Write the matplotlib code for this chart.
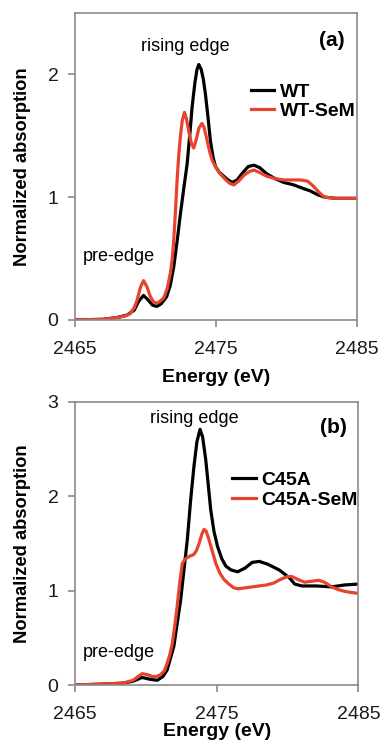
import numpy as np
import matplotlib
matplotlib.use("Agg")
from matplotlib import pyplot as plt

plt.rcParams['font.family'] = ['Liberation Sans', 'DejaVu Sans']

# (a) WT vs WT-SeM
wt_e = [2465, 2467, 2468, 2468.7, 2469.2, 2469.5, 2469.86, 2470.2, 2470.5, 2470.8,
        2471.1, 2471.5, 2471.75, 2472.0, 2472.25, 2472.47, 2472.7, 2472.95, 2473.15,
        2473.3, 2473.5, 2473.65, 2473.78, 2473.95, 2474.1, 2474.25, 2474.45, 2474.6,
        2474.8, 2474.96, 2475.25, 2475.55, 2475.85, 2476.15, 2476.5, 2476.9, 2477.3,
        2477.7, 2478.1, 2478.6, 2479.2, 2479.8, 2480.5, 2481.2, 2481.7, 2482.2,
        2482.7, 2483.5, 2484.3, 2485]
wt_mu = [0, 0.005, 0.02, 0.04, 0.08, 0.15, 0.20, 0.16, 0.12, 0.11,
         0.13, 0.19, 0.28, 0.43, 0.65, 0.86, 1.06, 1.27, 1.52,
         1.73, 1.93, 2.04, 2.08, 2.04, 1.96, 1.84, 1.63, 1.46,
         1.32, 1.25, 1.20, 1.17, 1.14, 1.12, 1.14, 1.20, 1.25,
         1.26, 1.24, 1.19, 1.15, 1.12, 1.10, 1.07, 1.05, 1.02,
         1.00, 0.99, 0.99, 0.99]

wtsem_e = [2465, 2467, 2468, 2468.5, 2468.9, 2469.2, 2469.4, 2469.65, 2469.86, 2470.1,
           2470.34, 2470.55, 2470.75, 2471.0, 2471.3, 2471.55, 2471.76, 2471.9, 2472.0,
           2472.12, 2472.24, 2472.35, 2472.47, 2472.6, 2472.76, 2472.9, 2473.06, 2473.25,
           2473.42, 2473.6, 2473.78, 2474.0, 2474.15, 2474.37, 2474.55, 2474.73, 2475.0,
           2475.3, 2475.7, 2476.0, 2476.27, 2476.6, 2477.0, 2477.4, 2477.7, 2478.1,
           2478.6, 2479.2, 2479.8, 2480.4, 2481.0, 2481.5, 2481.9, 2482.3, 2482.7,
           2483.5, 2484.3, 2485]
wtsem_mu = [0, 0.005, 0.02, 0.03, 0.05, 0.10, 0.16, 0.27, 0.32, 0.27,
            0.19, 0.15, 0.135, 0.15, 0.18, 0.26, 0.38, 0.50, 0.65,
            0.88, 1.14, 1.33, 1.49, 1.62, 1.69, 1.64, 1.54, 1.44,
            1.40, 1.47, 1.56, 1.60, 1.57, 1.46, 1.37, 1.30, 1.24,
            1.19, 1.14, 1.11, 1.10, 1.13, 1.18, 1.21, 1.22, 1.20,
            1.17, 1.15, 1.14, 1.14, 1.14, 1.13, 1.09, 1.04, 1.00,
            0.99, 0.99, 0.99]

# (b) C45A vs C45A-SeM
c45_e = [2465, 2467, 2468.4, 2469.1, 2469.73, 2470.3, 2470.8, 2471.2, 2471.5, 2471.97,
         2472.45, 2472.92, 2473.15, 2473.39, 2473.6, 2473.82, 2474.0, 2474.22, 2474.4,
         2474.57, 2474.8, 2475.05, 2475.35, 2475.64, 2476.0, 2476.47, 2477.0, 2477.5,
         2478.0, 2478.6, 2479.4, 2480.1, 2480.5, 2481.0, 2482.0, 2483.1, 2484.0, 2485]
c45_mu = [0, 0.01, 0.02, 0.04, 0.08, 0.06, 0.05, 0.09, 0.16, 0.41,
          0.90, 1.54, 1.95, 2.32, 2.58, 2.71, 2.63, 2.39, 2.12,
          1.86, 1.63, 1.47, 1.34, 1.26, 1.22, 1.20, 1.24, 1.30,
          1.31, 1.28, 1.22, 1.14, 1.07, 1.05, 1.05, 1.04, 1.06, 1.07]

c45sem_e = [2465, 2467, 2468.4, 2469.1, 2469.45, 2469.73, 2470.1, 2470.44, 2470.75, 2471.03,
            2471.3, 2471.5, 2471.7, 2471.86, 2472.03, 2472.2, 2472.4, 2472.57, 2472.75,
            2472.92, 2473.15, 2473.35, 2473.55, 2473.75, 2473.95, 2474.1, 2474.25, 2474.45,
            2474.7, 2474.93, 2475.2, 2475.5, 2475.85, 2476.2, 2476.5, 2477.0, 2477.5,
            2478.0, 2478.5, 2479.0, 2479.5, 2480.0, 2480.3, 2480.7, 2481.2, 2481.7,
            2482.2, 2482.6, 2483.1, 2483.6, 2484.1, 2485]
c45sem_mu = [0, 0.01, 0.02, 0.05, 0.09, 0.12, 0.11, 0.09, 0.09, 0.11,
             0.15, 0.23, 0.33, 0.44, 0.62, 0.83, 1.10, 1.29, 1.33,
             1.35, 1.37, 1.38, 1.42, 1.50, 1.60, 1.65, 1.63, 1.54,
             1.41, 1.29, 1.19, 1.12, 1.07, 1.03, 1.02, 1.03, 1.04,
             1.05, 1.06, 1.08, 1.12, 1.15, 1.15, 1.12, 1.09, 1.10,
             1.11, 1.09, 1.04, 1.01, 0.99, 0.97]

RED = '#e8432d'
SPINE = '#8a8a8a'

fig = plt.figure(figsize=(3.83, 7.44), dpi=100)
ax1 = fig.add_axes([0.196, 0.570, 0.736, 0.4126])
ax2 = fig.add_axes([0.196, 0.0793, 0.740, 0.3804])

# axes, spectra, legend names, y-top, y-ticks, tag, xlabel pad, legend anchor
panels = [
    (ax1, wt_e, wt_mu, wtsem_e, wtsem_mu, 'WT', 'WT-SeM', 2.5, [0, 1, 2], '(a)', 8, (0.623, 0.772)),
    (ax2, c45_e, c45_mu, c45sem_e, c45sem_mu, 'C45A', 'C45A-SeM', 3.0, [0, 1, 2, 3], '(b)', 0, (0.555, 0.754)),
]

leg_kw = dict(frameon=False, handlelength=1.2, handletextpad=0.3, borderpad=0,
              borderaxespad=0, labelspacing=0.1, prop={'weight': 'bold', 'size': 14})

for ax, e1, m1, e2, m2, l1, l2, ytop, yt, tag, xpad, anchor in panels:
    ax.plot(e1, m1, color='black', lw=2.3, label=l1, solid_joinstyle='round')
    ax.plot(e2, m2, color=RED, lw=2.3, label=l2, solid_joinstyle='round')
    ax.set_xlim(2465, 2485)
    ax.set_ylim(0, ytop)
    ax.set_xticks([2465, 2475, 2485])
    ax.set_yticks(yt)
    ax.tick_params(direction='out', length=5, width=1.2, color=SPINE,
                   labelsize=14, labelcolor='#1a1a1a', pad=7)
    ax.tick_params(axis='x', pad=10)
    for s in ax.spines.values():
        s.set_color(SPINE)
        s.set_linewidth(1.2)
    ax.set_xlabel('Energy (eV)', fontsize=14, fontweight='bold', labelpad=xpad)
    ax.set_ylabel('Normalized absorption', fontsize=13.2, fontweight='bold', labelpad=12)
    ax.text(0.91, 0.91, tag, transform=ax.transAxes,
            ha='center', va='center', fontsize=15, fontweight='bold')
    ax.legend(loc='upper left', bbox_to_anchor=anchor, **leg_kw)

ax1.text(2472.8, 2.23, 'rising edge', ha='center', va='center', fontsize=13)
ax1.text(2468.1, 0.52, 'pre-edge', ha='center', va='center', fontsize=13)
ax2.text(2473.4, 2.83, 'rising edge', ha='center', va='center', fontsize=13)
ax2.text(2468.1, 0.34, 'pre-edge', ha='center', va='center', fontsize=13)

fig.savefig('out.png', dpi=100)
